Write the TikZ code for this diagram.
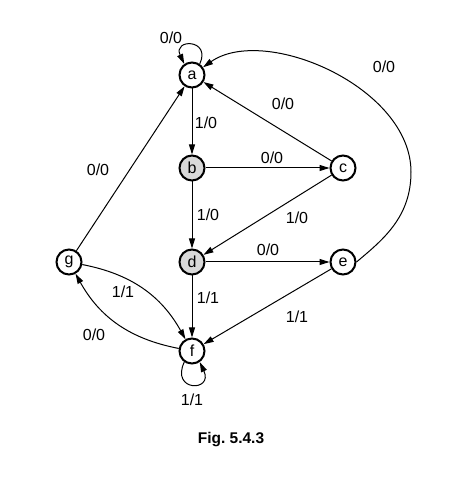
\documentclass[tikz,border=0pt]{standalone}
\usepackage{fontspec}
\setmainfont{Liberation Sans}
\usetikzlibrary{arrows.meta}
\begin{document}
\begin{tikzpicture}[x=1pt,y=1pt,
  state/.style={circle,draw,line width=2pt,minimum size=25pt,inner sep=0pt,font=\fontsize{16}{16}\selectfont},
  shaded/.style={state,fill=black!15},
  lbl/.style={font=\fontsize{16}{16}\selectfont,inner sep=0pt},
  tr/.style={-{Triangle[length=10pt,width=6pt]},line width=1pt}]
\useasboundingbox (0,0) rectangle (463,477);
\node[state]  (a) at (192,402) {a};
\node[shaded] (b) at (192,309) {b};
\node[state]  (c) at (343,309) {c};
\node[shaded] (d) at (192,215) {d};
\node[state]  (e) at (343,215) {e};
\node[state]  (f) at (192,126) {f};
\node[state]  (g) at (69,215) {g};
% edges
\draw[tr] (a.55) .. controls +(65:28) and +(115:28) .. (a.125);
\draw[tr] (a) -- (b);
\draw[tr] (b) -- (c);
\draw[tr] (b) -- (d);
\draw[tr] (c) -- (a);
\draw[tr] (c) -- (d);
\draw[tr] (d) -- (e);
\draw[tr] (d) -- (f);
\draw[tr] (e) -- (f);
\draw[tr] (g) -- (a);
\draw[tr] (g) to[bend left=25] (f);
\draw[tr] (f) to[bend left=25] (g);
\draw[tr] (f.235) .. controls +(245:33) and +(295:33) .. (f.305);
\coordinate (r) at (411,305);
\draw[tr] (e.east) .. controls +(40:35) and +(-90:45) .. (r) .. controls +(90:85) and +(35:75) .. (a.35);
% labels
\node[lbl] (l1) at (171,439) {0/0};
\node[lbl] (l2) at (206,354) {1/0};
\node[lbl] (l3) at (283,373) {0/0};
\node[lbl] (l4) at (384,410) {0/0};
\node[lbl] (l5) at (272,319) {0/0};
\node[lbl] (l6) at (208,262) {1/0};
\node[lbl] (l7) at (297,259) {1/0};
\node[lbl] (l8) at (268,227) {0/0};
\node[lbl] (l9) at (208,179) {1/1};
\node[lbl] (l10) at (297,160) {1/1};
\node[lbl] (l11) at (98,307) {0/0};
\node[lbl] (l12) at (123,185) {1/1};
\node[lbl] (l13) at (94,142) {0/0};
\node[lbl] (l14) at (192,77) {1/1};
\node[font=\bfseries\fontsize{15.5}{15.5}\selectfont] (cap) at (231,37) {Fig.\ 5.4.3};
\end{tikzpicture}
\end{document}
